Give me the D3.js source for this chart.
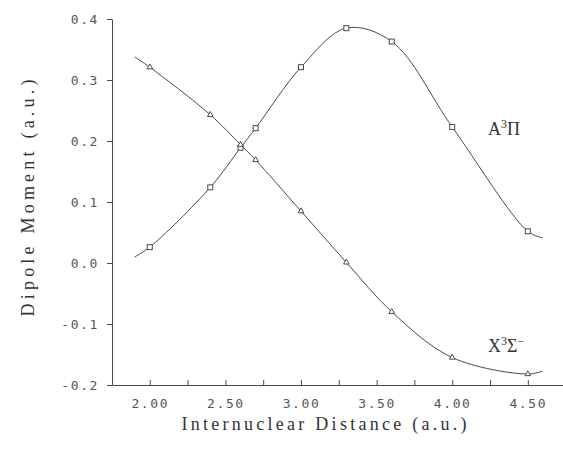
<!DOCTYPE html>
<html>
<head>
<meta charset="utf-8">
<script src="https://cdn.jsdelivr.net/npm/d3@7"></script>
<style>
  html, body { margin: 0; padding: 0; background: #fff; }
  svg { display: block; }
</style>
</head>
<body>
<svg id="chart" width="563" height="460"></svg>
<script>
// ---- data ----
const distance = [2.0, 2.4, 2.6, 2.7, 3.0, 3.3, 3.6, 4.0, 4.5];
const dipolePi = [0.026, 0.124, 0.189, 0.221, 0.321, 0.385, 0.363, 0.223, 0.052];
const dipoleSigma = [0.321, 0.243, 0.194, 0.169, 0.085, 0.001, -0.080, -0.155, -0.182];
// fitted-curve ends (curve extends slightly beyond the computed points)
const curveEnds = [1.9, 4.6];
const piEnds = [0.010, 0.041];
const sigmaEnds = [0.338, -0.177];
const xTicks = [2.0, 2.25, 2.5, 2.75, 3.0, 3.25, 3.5, 3.75, 4.0, 4.25, 4.5, 4.75];
const xLabeled = [2.0, 2.5, 3.0, 3.5, 4.0, 4.5];
const yTicks = [-0.2, -0.1, 0.0, 0.1, 0.2, 0.3, 0.4];

const svg = d3.select("#chart");
const ink = "#4a4a4a";

const x = d3.scaleLinear().domain([1.75, 4.75]).range([112, 565.6]);
const y = d3.scaleLinear().domain([-0.2, 0.4]).range([385, 19]);

// y axis
const yAxis = d3.axisLeft(y).tickValues(yTicks).tickSizeInner(5).tickSizeOuter(0)
  .tickPadding(8)
  .tickFormat(d => d3.format(".1f")(d).replace("\u2212", "-"));
const gy = svg.append("g").attr("transform", `translate(${x(1.75)},0)`).call(yAxis);
gy.select(".domain").attr("stroke", ink);
gy.selectAll(".tick line").attr("stroke", ink);
gy.selectAll(".tick text")
  .attr("fill", "#555").attr("font-family", "DejaVu Sans Mono, monospace")
  .attr("font-size", 13).attr("letter-spacing", "1.6px");

// x axis
const xAxis = d3.axisBottom(x).tickValues(xTicks).tickSizeInner(-5).tickSizeOuter(0)
  .tickPadding(14)
  .tickFormat(d => xLabeled.includes(d) ? d3.format(".2f")(d) : "");
const gx = svg.append("g").attr("transform", `translate(0,${y(-0.2)})`).call(xAxis);
gx.select(".domain").attr("stroke", ink);
gx.selectAll(".tick line").attr("stroke", ink);
gx.selectAll(".tick text")
  .attr("fill", "#555").attr("font-family", "DejaVu Sans Mono, monospace")
  .attr("font-size", 13).attr("letter-spacing", "1.6px");
gx.selectAll(".tick text").filter(d => !xLabeled.includes(d)).remove();

// curves
const line = d3.line().x(d => x(d[0])).y(d => y(d[1])).curve(d3.curveCatmullRom.alpha(0.5));
const piCurve = [[curveEnds[0], piEnds[0]], ...distance.map((d, i) => [d, dipolePi[i]]), [curveEnds[1], piEnds[1]]];
const sigmaCurve = [[curveEnds[0], sigmaEnds[0]], ...distance.map((d, i) => [d, dipoleSigma[i]]), [curveEnds[1], sigmaEnds[1]]];

svg.append("path").attr("d", line(piCurve)).attr("fill", "none").attr("stroke", ink).attr("stroke-width", 1);
svg.append("path").attr("d", line(sigmaCurve)).attr("fill", "none").attr("stroke", ink).attr("stroke-width", 1);

// markers
svg.append("g").selectAll("rect").data(distance).join("rect")
  .attr("x", (d) => x(d) - 2.5).attr("y", (d, i) => y(dipolePi[i]) - 2.5)
  .attr("width", 5).attr("height", 5)
  .attr("fill", "#fff").attr("stroke", ink).attr("stroke-width", 1);

const tri = d3.symbol().type(d3.symbolTriangle).size(14);
svg.append("g").selectAll("path").data(distance).join("path")
  .attr("transform", (d, i) => `translate(${x(d)},${y(dipoleSigma[i])})`)
  .attr("d", tri())
  .attr("fill", "#fff").attr("stroke", ink).attr("stroke-width", 1);

// axis titles
svg.append("text").attr("x", 324).attr("y", 430).attr("text-anchor", "middle")
  .attr("font-family", "Liberation Serif, serif").attr("font-size", 18).attr("fill", "#333")
  .attr("textLength", 285).attr("lengthAdjust", "spacing")
  .text("Internuclear Distance (a.u.)");

svg.append("text").attr("transform", "translate(34,198) rotate(-90)").attr("text-anchor", "middle")
  .attr("font-family", "Liberation Serif, serif").attr("font-size", 18).attr("fill", "#333")
  .attr("textLength", 237).attr("lengthAdjust", "spacing")
  .text("Dipole Moment (a.u.)");

// curve labels
const lab1 = svg.append("text").attr("x", 488).attr("y", 135)
  .attr("font-family", "Liberation Serif, serif").attr("font-size", 18).attr("fill", "#333");
lab1.append("tspan").text("A");
lab1.append("tspan").attr("dy", -7).attr("font-size", 12).text("3");
lab1.append("tspan").attr("dy", 7).text("Π");

const lab2 = svg.append("text").attr("x", 488).attr("y", 352)
  .attr("font-family", "Liberation Serif, serif").attr("font-size", 18).attr("fill", "#333");
lab2.append("tspan").text("X");
lab2.append("tspan").attr("dy", -7).attr("font-size", 12).text("3");
lab2.append("tspan").attr("dy", 7).text("Σ");
lab2.append("tspan").attr("dy", -7).attr("font-size", 12).text("−");
</script>
</body>
</html>
